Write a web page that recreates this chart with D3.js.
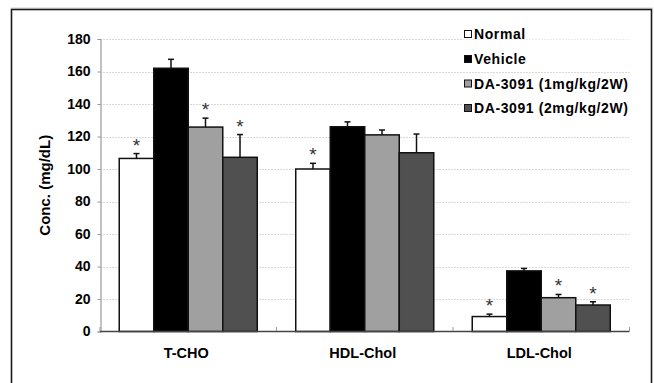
<!DOCTYPE html>
<html>
<head>
<meta charset="utf-8">
<script src="https://cdn.jsdelivr.net/npm/d3@7"></script>
<style>
  html, body { margin: 0; padding: 0; background: #fff; }
  svg { display: block; }
  text { font-family: "Liberation Sans", Arial, sans-serif; }
</style>
</head>
<body>
<svg id="chart" width="654" height="383"></svg>
<script>
// ---- data ----
const categories = ["T-CHO", "HDL-Chol", "LDL-Chol"];
const seriesNames = ["Normal", "Vehicle", "DA-3091 (1mg/kg/2W)", "DA-3091 (2mg/kg/2W)"];
const normalValues  = [106.5, 100.0, 9.2];
const normalErr     = [3.0, 3.5, 1.5];
const vehicleValues = [162.0, 126.0, 37.3];
const vehicleErr    = [5.5, 3.0, 1.5];
const da1Values     = [125.8, 121.0, 20.8];
const da1Err        = [5.5, 3.0, 2.0];
const da2Values     = [107.2, 110.0, 16.3];
const da2Err        = [14.0, 11.5, 2.0];
const normalSig  = [true, true, true];
const vehicleSig = [false, false, false];
const da1Sig     = [true, false, true];
const da2Sig     = [true, false, true];
const yTicks = [0, 20, 40, 60, 80, 100, 120, 140, 160, 180];
const yLabel = "Conc. (mg/dL)";

const seriesColors = ["#ffffff", "#000000", "#a0a0a0", "#505050"];
const allValues = [normalValues, vehicleValues, da1Values, da2Values];
const allErr = [normalErr, vehicleErr, da1Err, da2Err];
const allSig = [normalSig, vehicleSig, da1Sig, da2Sig];

const rows = [];
categories.forEach((c, ci) => {
  seriesNames.forEach((s, si) => {
    rows.push({ cat: c, ser: s, si, value: allValues[si][ci], err: allErr[si][ci], sig: allSig[si][ci] });
  });
});

const svg = d3.select("#chart");

// frame
svg.append("line").attr("x1", 11).attr("x2", 653).attr("y1", 8).attr("y2", 8)
  .attr("stroke", "#cfcfcf").attr("stroke-width", 1);
svg.append("rect").attr("x", 11.5).attr("y", 9.5).attr("width", 640).attr("height", 400)
  .attr("fill", "none").attr("stroke", "#1a1a1a").attr("stroke-width", 1.6);

// scales
const x0 = d3.scaleBand().domain(categories).range([100, 629.5]).paddingInner(0.218).paddingOuter(0.109);
const x1 = d3.scaleBand().domain(seriesNames).range([0, x0.bandwidth()]);
const y = d3.scaleLinear().domain([0, 180]).range([331.5, 39]);

// gridlines
svg.append("g").selectAll("line").data(yTicks.filter(t => t > 0)).join("line")
  .attr("x1", 100).attr("x2", 629.5)
  .attr("y1", d => Math.round(y(d)) + 0.5).attr("y2", d => Math.round(y(d)) + 0.5)
  .attr("stroke", "#d9d9d9").attr("stroke-width", 1).attr("stroke-dasharray", "2,1");

// y axis
const yAxis = d3.axisLeft(y).tickValues(yTicks).tickSize(3).tickPadding(7);
const gy = svg.append("g").attr("transform", "translate(100.5,0)").call(yAxis);
gy.select(".domain").attr("stroke", "#999").attr("stroke-width", 1.2);
gy.selectAll(".tick line").attr("stroke", "#999");
gy.selectAll(".tick text").attr("font-size", 14).attr("font-weight", "bold").attr("fill", "#000")
  .attr("font-family", "'Liberation Sans', Arial, sans-serif");

// bars
const bars = svg.append("g");
bars.selectAll("rect").data(rows).join("rect")
  .attr("x", d => x0(d.cat) + x1(d.ser))
  .attr("y", d => y(d.value))
  .attr("width", x1.bandwidth())
  .attr("height", d => y(0) - y(d.value))
  .attr("fill", d => seriesColors[d.si])
  .attr("stroke", "#111").attr("stroke-width", 1.5);

// error bars (upper only)
const eb = svg.append("g").attr("stroke", "#111").attr("stroke-width", 1.5);
rows.forEach(d => {
  const cx = x0(d.cat) + x1(d.ser) + x1.bandwidth() / 2;
  eb.append("line").attr("x1", cx).attr("x2", cx).attr("y1", y(d.value)).attr("y2", y(d.value + d.err));
  eb.append("line").attr("x1", cx - 3).attr("x2", cx + 3).attr("y1", y(d.value + d.err)).attr("y2", y(d.value + d.err));
});

// significance stars
svg.append("g").selectAll("text").data(rows.filter(d => d.sig)).join("text")
  .attr("x", d => x0(d.cat) + x1(d.ser) + x1.bandwidth() / 2)
  .attr("y", d => y(d.value + d.err) - 2)
  .attr("text-anchor", "middle")
  .attr("font-size", 19).attr("fill", "#333")
  .attr("font-family", "'DejaVu Sans', sans-serif")
  .text("*");

// x axis
svg.append("line").attr("x1", 100).attr("x2", 629.5).attr("y1", 331.5).attr("y2", 331.5)
  .attr("stroke", "#444").attr("stroke-width", 1.5);
const boundaries = d3.range(categories.length + 1).map(i => 100 + i * x0.step());
svg.append("g").selectAll("line").data(boundaries).join("line")
  .attr("x1", d => d).attr("x2", d => d).attr("y1", 331).attr("y2", 327)
  .attr("stroke", "#999").attr("stroke-width", 1);
svg.append("g").selectAll("text").data(categories).join("text")
  .attr("x", d => x0(d) + x0.bandwidth() / 2 - 2)
  .attr("y", 357.5)
  .attr("text-anchor", "middle")
  .attr("font-size", 14.5).attr("font-weight", "bold").attr("fill", "#000")
  .text(d => d);

// y label
svg.append("text")
  .attr("transform", `translate(50,${(y(0) + y(180)) / 2}) rotate(-90)`)
  .attr("text-anchor", "middle")
  .attr("font-size", 15).attr("font-weight", "bold").attr("fill", "#000")
  .text(yLabel);

// legend
const legendY = [34, 59, 83.5, 108];
const lg = svg.append("g");
seriesNames.forEach((s, i) => {
  const cy = legendY[i];
  lg.append("rect").attr("x", 463).attr("y", cy - 6).attr("width", 174).attr("height", 11.5).attr("fill", "#fff");
  lg.append("rect").attr("x", 464.5).attr("y", cy - 3.5).attr("width", 7).attr("height", 7)
    .attr("fill", seriesColors[i]).attr("stroke", "#111").attr("stroke-width", 1);
  lg.append("text").attr("x", 474).attr("y", cy + 5)
    .attr("font-size", 14).attr("font-weight", "bold").attr("fill", "#000")
    .attr("letter-spacing", 0.6)
    .text(s);
});
</script>
</body>
</html>
